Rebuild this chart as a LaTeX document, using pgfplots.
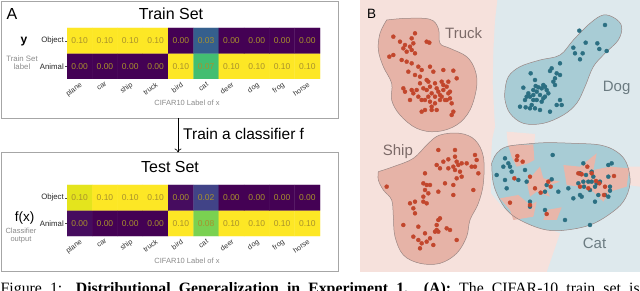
\documentclass[border=0pt]{standalone}
\usepackage{pgfplots}
\pgfplotsset{compat=1.18}
\usepackage{pgfplotstable}
\usepackage{fontspec}
\setmainfont{Liberation Serif}
\setsansfont{Liberation Sans}
\usetikzlibrary{arrows.meta}
\definecolor{boxgray}{HTML}{A6A6A6}
\definecolor{celltxt}{HTML}{A8912C}
\definecolor{lblgray}{HTML}{8A8A8A}
\definecolor{bgpink}{HTML}{F6E1DC}
\definecolor{bgblue}{HTML}{DEE9ED}
\definecolor{blobpink}{HTML}{E6B3A7}
\definecolor{blobblue}{HTML}{A8CCD5}
\definecolor{wedgepink}{HTML}{E8B6AA}
\definecolor{reddot}{HTML}{C2462C}
\definecolor{tealdot}{HTML}{2B6F82}
\definecolor{blobline}{HTML}{9A8683}
\definecolor{trucklbl}{HTML}{7C6A68}
\definecolor{doglbl}{HTML}{6B7B81}

\pgfplotstableread{
x y c t
0 0 0 0.00
1 0 0 0.00
2 0 0 0.00
3 0 0 0.00
4 0 0.10 0.10
5 0 0.07 0.07
6 0 0.10 0.10
7 0 0.10 0.10
8 0 0.10 0.10
9 0 0.10 0.10
0 1 0.10 0.10
1 1 0.10 0.10
2 1 0.10 0.10
3 1 0.10 0.10
4 1 0 0.00
5 1 0.03 0.03
6 1 0 0.00
7 1 0 0.00
8 1 0 0.00
9 1 0 0.00
}\traintab

\pgfplotstableread{
x y c t
0 0 0.003 0.00
1 0 0 0.00
2 0 0 0.00
3 0 0 0.00
4 0 0.10 0.10
5 0 0.08 0.08
6 0 0.10 0.10
7 0 0.10 0.10
8 0 0.10 0.10
9 0 0.10 0.10
0 1 0.096 0.10
1 1 0.10 0.10
2 1 0.10 0.10
3 1 0.10 0.10
4 1 0.003 0.00
5 1 0.02 0.02
6 1 0 0.00
7 1 0 0.00
8 1 0 0.00
9 1 0 0.00
}\testtab

\pgfplotsset{
 hm/.style={scale only axis, width=253pt, height=51pt, anchor=north west,
   xmin=-0.5, xmax=9.5, ymin=-0.5, ymax=1.5,
   colormap/viridis, point meta min=0, point meta max=0.1,
   xtick={0,...,9}, xticklabels={plane,car,ship,truck,bird,cat,deer,dog,frog,horse},
   ytick={0,1}, yticklabels={Animal,Object},
   axis line style={draw=none},
   xtick style={draw=none},
   ytick style={draw=black!70, line width=0.4pt},
   xtick pos=left, ytick pos=left,
   tick align=outside, major tick length=2pt,
   xticklabel style={rotate=35, anchor=north east, font=\sffamily\fontsize{7.2}{8}\selectfont, text=black!80, inner sep=0.5pt},
   yticklabel style={font=\sffamily\fontsize{7.8}{8}\selectfont, text=black!85, inner sep=1pt},
   nodes near coords style={font=\sffamily\fontsize{8.5}{9}\selectfont, text=celltxt, anchor=center, inner sep=0pt},
 },
 dots/.style={only marks, mark=*, mark size=2pt, mark options={draw=none}},
}

\begin{document}
\begin{tikzpicture}[font=\sffamily]
\useasboundingbox (0pt,0pt) rectangle (640pt,-291pt);

% ---------- panel A boxes and labels
\draw[boxgray, line width=0.8pt] (1pt,-1pt) rectangle (338pt,-118pt);
\draw[boxgray, line width=0.8pt] (1pt,-152.5pt) rectangle (338pt,-271.5pt);
\draw[line width=0.6pt, -{To[length=4pt,width=7pt]}] (178pt,-118pt) -- (178pt,-152.5pt);
\node[anchor=base west, inner sep=0pt, font=\sffamily\fontsize{15.5}{16}\selectfont] at (183pt,-140pt) {Train a classifier f};

\node[anchor=base west, inner sep=0pt, font=\sffamily\fontsize{16}{17}\selectfont] at (6.5pt,-19.5pt) {A};
\node[anchor=base, inner sep=0pt, font=\sffamily\fontsize{16}{17}\selectfont] at (171pt,-19.3pt) {Train Set};
\node[anchor=base, inner sep=0pt, font=\sffamily\fontsize{16}{17}\selectfont] at (170pt,-172.3pt) {Test Set};

\node[anchor=base, inner sep=0pt, font=\sffamily\bfseries\fontsize{12}{13}\selectfont] at (24pt,-43.5pt) {y};
\node[anchor=base, inner sep=0pt, text=lblgray, font=\sffamily\fontsize{7.8}{8}\selectfont] at (22pt,-61.7pt) {Train Set};
\node[anchor=base, inner sep=0pt, text=lblgray, font=\sffamily\fontsize{7.8}{8}\selectfont] at (22pt,-70pt) {label};

\node[anchor=base, inner sep=0pt, font=\sffamily\fontsize{13.5}{14}\selectfont] at (24.5pt,-222pt) {f(x)};
\node[anchor=base, inner sep=0pt, text=lblgray, font=\sffamily\fontsize{7.5}{8}\selectfont] at (21pt,-234pt) {Classifier};
\node[anchor=base, inner sep=0pt, text=lblgray, font=\sffamily\fontsize{7.5}{8}\selectfont] at (21pt,-241.5pt) {output};

\node[anchor=base, inner sep=0pt, text=lblgray, font=\sffamily\fontsize{7.5}{8}\selectfont] at (187pt,-106pt) {CIFAR10 Label of x};
\node[anchor=base, inner sep=0pt, text=lblgray, font=\sffamily\fontsize{7.5}{8}\selectfont] at (187pt,-263pt) {CIFAR10 Label of x};

\begin{axis}[hm, at={(67pt,-28pt)}]
 \addplot[matrix plot*, mesh/cols=10, point meta=explicit] table[meta=c]{\traintab};
 \addplot[draw=none, mark=none, nodes near coords, point meta=explicit symbolic] table[meta=t]{\traintab};
\end{axis}

\begin{axis}[hm, at={(67pt,-185pt)}]
 \addplot[matrix plot*, mesh/cols=10, point meta=explicit] table[meta=c]{\testtab};
 \addplot[draw=none, mark=none, nodes near coords, point meta=explicit symbolic] table[meta=t]{\testtab};
\end{axis}

% ---------- panel B
\begin{axis}[at={(360pt,0pt)}, anchor=north west, scale only axis, width=280pt, height=272pt,
  xmin=0, xmax=840, ymin=0, ymax=816, y dir=reverse, hide axis]
 % background regions
 \addplot[fill=bgblue, draw=none] coordinates {(0,0) (840,0) (840,816) (0,816)} -- cycle;
 \addplot[fill=bgpink, draw=none] coordinates {(0,0) (412,0) (405,60) (400,150) (398,250) (402,330) (405,380) (396,420) (392,500) (393,580) (430,625) (500,660) (600,700) (560,816) (0,816)} -- cycle;
 \addplot[fill=bgpink, draw=none] coordinates {(440,395) (525,402) (522,450) (445,450)} -- cycle;
 \addplot[fill=bgpink, draw=none] coordinates {(800,500) (840,500) (840,560) (805,555)} -- cycle;
 % blobs
 \addplot[smooth, tension=0.6, fill=blobpink, draw=blobline, line width=0.5pt] coordinates {(80,60) (140,55) (210,58) (235,85) (240,130) (270,145) (320,170) (345,210) (350,260) (330,330) (290,375) (230,395) (170,385) (120,345) (95,300) (95,250) (70,200) (55,150) (60,100) (80,60)};
 \addplot[smooth, tension=0.6, fill=blobblue, draw=blobline, line width=0.5pt] coordinates {(435,270) (445,230) (480,200) (540,180) (600,165) (640,120) (690,70) (730,45) (765,55) (785,80) (775,120) (735,160) (700,200) (675,260) (650,310) (610,345) (550,370) (490,370) (450,340) (435,300) (435,270)};
 \addplot[smooth, tension=0.6, fill=blobpink, draw=blobline, line width=0.5pt] coordinates {(55,515) (100,500) (160,475) (205,430) (240,405) (300,400) (345,420) (370,470) (370,550) (355,610) (330,660) (320,710) (290,760) (240,790) (180,790) (130,765) (105,710) (100,650) (95,600) (70,570) (55,540) (55,515)};
 \addplot[smooth, tension=0.6, fill=blobblue, draw=none] coordinates {(395,490) (410,460) (440,440) (500,432) (560,428) (640,430) (720,435) (770,455) (800,490) (810,550) (790,605) (745,645) (690,675) (620,690) (560,690) (500,670) (450,640) (420,600) (400,550) (395,490)};
 % pink wedges inside cat blob
 \addplot[fill=wedgepink, draw=none] coordinates {(445,437) (520,433) (523,480) (505,490) (470,500) (455,470)} -- cycle;
 \addplot[fill=wedgepink, draw=none] coordinates {(500,545) (540,500) (550,535) (600,545) (555,560) (570,590) (530,575) (510,590)} -- cycle;
 \addplot[fill=wedgepink, draw=none] coordinates {(610,495) (660,500) (710,460) (700,510) (750,500) (808,505) (800,560) (750,575) (730,605) (700,575) (660,560) (620,555)} -- cycle;
 \addplot[fill=wedgepink, draw=none] coordinates {(420,595) (475,585) (510,615) (530,605) (520,650) (460,660) (450,630)} -- cycle;
 \addplot[fill=wedgepink, draw=none] coordinates {(560,630) (605,622) (590,660) (550,660)} -- cycle;
 \addplot[smooth, tension=0.6, draw=blobline, line width=0.5pt] coordinates {(395,490) (410,460) (440,440) (500,432) (560,428) (640,430) (720,435) (770,455) (800,490) (810,550) (790,605) (745,645) (690,675) (620,690) (560,690) (500,670) (450,640) (420,600) (400,550) (395,490)};
 % truck points
 \addplot[dots, color=reddot] coordinates {(100,110) (120,125) (135,135) (150,140) (160,130) (165,100) (155,115) (130,145) (140,155) (155,150) (165,160) (200,125) (208,128) (100,165) (88,170) (125,180) (140,185) (155,190) (175,200) (185,210) (210,200) (145,215) (165,225) (220,215) (250,210) (280,212) (290,235) (245,245) (225,250) (205,245) (180,250) (170,270) (190,265) (200,270) (210,260) (215,280) (230,265) (235,275) (240,285) (250,270) (260,260) (265,280) (270,275) (130,265) (135,275) (175,290) (185,300) (195,300) (210,305) (215,320) (225,310) (240,300) (260,300) (270,295) (275,310) (280,335) (275,345) (230,330) (215,330) (195,330) (185,335) (150,300) (250,255) (205,290) (245,290) (255,300) (160,280) (225,290) (180,230) (200,240) (265,245) (155,270)};
 % ship points
 \addplot[dots, color=reddot] coordinates {(235,450) (285,450) (345,465) (350,480) (285,470) (290,485) (250,485) (265,478) (230,495) (240,505) (265,505) (280,500) (295,495) (305,490) (320,490) (285,510) (300,515) (335,500) (345,500) (355,520) (195,520) (190,550) (200,555) (210,555) (195,570) (190,590) (205,580) (235,575) (255,550) (280,555) (290,535) (305,530) (280,585) (340,570) (80,560) (150,610) (165,605) (190,605) (200,610) (160,625) (165,640) (130,675) (175,680) (235,660) (240,655) (230,675) (230,690) (235,695) (225,695) (260,685) (270,690) (195,700) (210,715) (200,725) (185,730) (180,745) (160,710) (175,720) (220,735) (290,720)};
 % dog points
 \addplot[dots, color=tealdot] coordinates {(735,75) (658,92) (677,128) (712,130) (718,147) (740,153) (640,143) (645,160) (668,160) (660,178) (600,190) (575,205) (570,213) (590,220) (600,225) (512,220) (580,245) (585,255) (550,255) (545,265) (555,260) (560,270) (535,262) (527,258) (520,270) (490,263) (505,280) (500,290) (495,300) (510,290) (520,300) (530,300) (515,315) (525,325) (510,325) (497,322) (480,320) (540,285) (550,295) (545,305) (555,290) (520,285) (530,275) (565,280) (525,240) (600,300) (605,315) (590,315) (570,335) (540,330) (585,235)};
 % cat cluster: teal
 \addplot[dots, color=tealdot] coordinates {(435,475) (445,490) (430,500) (450,500) (455,515) (410,525) (435,540) (440,565) (475,540) (495,510) (500,545) (510,605) (510,620) (560,555) (555,575) (575,538) (595,575) (578,465) (625,565) (640,595) (655,550) (660,585) (665,590) (670,545) (670,490) (690,570) (695,515) (700,530) (705,605) (715,585) (695,545) (745,495) (755,490) (745,530) (750,560) (745,590) (735,585) (555,630) (615,660) (660,520) (672,560) (685,545) (710,550) (720,545) (678,525) (750,572) (705,560) (690,675)};
 % cat cluster: red
 \addplot[dots, color=reddot] coordinates {(472,468) (470,480) (488,485) (463,535) (510,530) (525,565) (542,578) (565,545) (572,560) (450,608) (510,615) (560,642) (655,520) (663,522) (682,500) (695,520) (708,543) (718,550) (685,565) (660,560) (735,560) (762,528) (732,585) (665,523)};
\end{axis}

\node[anchor=base west, inner sep=0pt, font=\sffamily\fontsize{13.5}{14}\selectfont] at (367pt,-18.3pt) {B};
\node[anchor=base west, inner sep=0pt, text=trucklbl, font=\sffamily\fontsize{15}{16}\selectfont] at (445pt,-38.3pt) {Truck};
\node[anchor=base west, inner sep=0pt, text=doglbl, font=\sffamily\fontsize{15}{16}\selectfont] at (602.7pt,-91.7pt) {Dog};
\node[anchor=base west, inner sep=0pt, text=trucklbl, font=\sffamily\fontsize{15}{16}\selectfont] at (382.7pt,-155.7pt) {Ship};
\node[anchor=base west, inner sep=0pt, text=doglbl, font=\sffamily\fontsize{15}{16}\selectfont] at (582.7pt,-248pt) {Cat};

% caption (cut by the page edge)
\node[anchor=base west, inner sep=0pt, font=\rmfamily\fontsize{15.8}{17}\selectfont] at (0.5pt,-293pt) {\makebox[639pt][s]{Figure 1: \textbf{Distributional Generalization in Experiment 1.}\quad\textbf{(A):} The CIFAR-10 train set is}};
\end{tikzpicture}
\end{document}
